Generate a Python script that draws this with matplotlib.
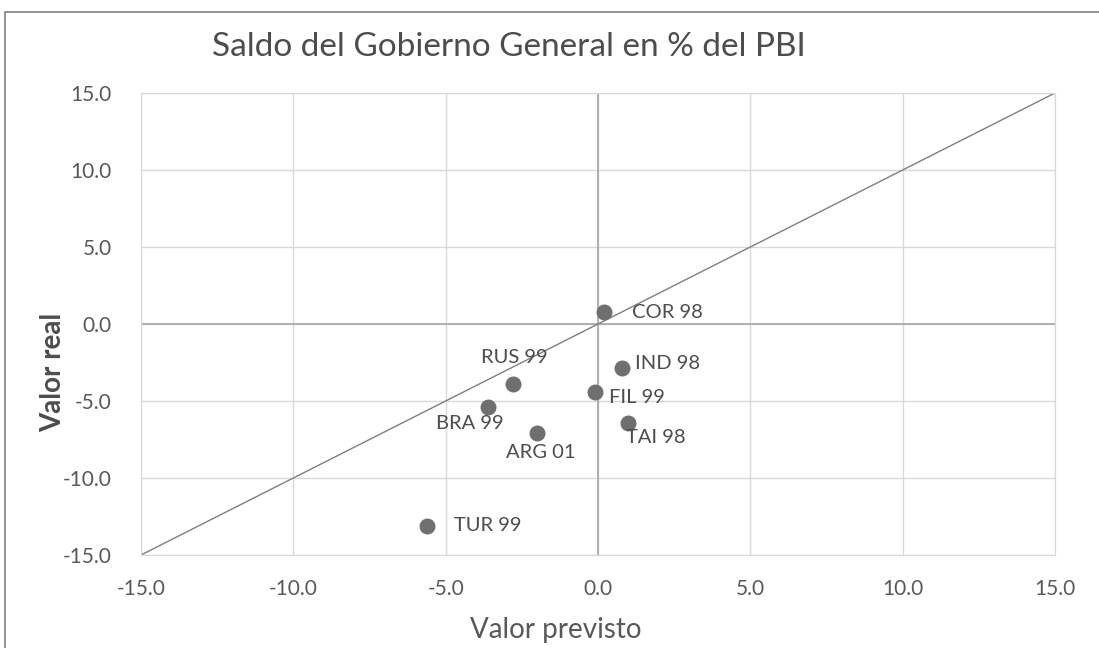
import matplotlib.pyplot as plt
from matplotlib.patches import Rectangle

# datos
paises = ["COR 98", "IND 98", "RUS 99", "FIL 99", "BRA 99", "ARG 01", "TAI 98", "TUR 99"]
previsto = [0.2, 0.8, -2.8, -0.1, -3.6, -2.0, 1.0, -5.6]
real = [0.75, -2.85, -3.9, -4.4, -5.4, -7.1, -6.4, -13.1]

# desplazamiento de cada etiqueta respecto del punto (puntos tipograficos)
offsets = {
    "COR 98": (20, 0, "left"),
    "IND 98": (9, 3, "left"),
    "RUS 99": (1, 19, "center"),
    "FIL 99": (10, -4, "left"),
    "BRA 99": (-13, -12, "center"),
    "ARG 01": (3, -14, "center"),
    "TAI 98": (20, -11, "center"),
    "TUR 99": (19, 0, "left"),
}

plt.rcParams['font.family'] = ['Lato', 'DejaVu Sans']
txt = '#4d4d4d'

fig = plt.figure(figsize=(10.99, 6.48), dpi=100)
ax = fig.add_axes([141 / 1099, 1 - 555 / 648, 914 / 1099, 462 / 648])

# marco exterior del grafico
fig.patches.append(Rectangle((5 / 1099, -0.05), 1.2, 1.05 - 12 / 648, transform=fig.transFigure,
                             fill=False, edgecolor='#7f7f7f', linewidth=1.2))

ax.set_xlim(-15, 15)
ax.set_ylim(-15, 15)
ticks = [-15, -10, -5, 0, 5, 10, 15]
ax.set_xticks(ticks)
ax.set_yticks(ticks)
ax.set_xticklabels([f"{t:.1f}" for t in ticks])
ax.set_yticklabels([f"{t:.1f}" for t in ticks])
ax.tick_params(length=0, labelsize=15, colors='#595959')
ax.tick_params(axis='x', pad=17)
ax.tick_params(axis='y', pad=21)
ax.grid(True, color='#d9d9d9', linewidth=1)
ax.set_axisbelow(True)
for s in ax.spines.values():
    s.set_color('#d9d9d9')
ax.axhline(0, color='#a6a6a6', linewidth=1.2, zorder=1)
ax.axvline(0, color='#a6a6a6', linewidth=1.2, zorder=1)

ax.plot([-15, 15], [-15, 15], color='#7f7f7f', linewidth=1, zorder=2)
ax.scatter(previsto, real, s=110, color='#6f6f6f', zorder=3)

for p, x, y in zip(paises, previsto, real):
    dx, dy, ha = offsets[p]
    ax.annotate(p, (x, y), xytext=(dx, dy), textcoords='offset points',
                ha=ha, va='center', fontsize=14.5, color=txt)

fig.text(556 / 1099, 1 - 630 / 648, "Valor previsto", ha='center', va='center',
         fontsize=20, color='#595959')
fig.text(53 / 1099, 1 - 372 / 648, "Valor real", ha='center', va='center', rotation=90,
         fontsize=20, color=txt, fontweight='bold')
fig.text(509 / 1099, 1 - 47 / 648, "Saldo del Gobierno General en % del PBI", ha='center', va='center',
         fontsize=24, color=txt)

fig.savefig("out.png", dpi=100)
